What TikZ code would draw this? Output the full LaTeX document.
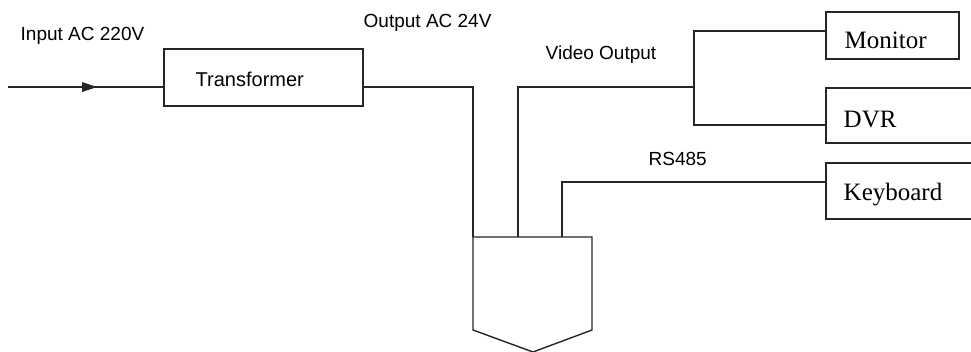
\documentclass[tikz,border=0pt]{standalone}
\usepackage{fontspec}
\setmainfont{Liberation Serif}
\setsansfont{Liberation Sans}
\begin{document}
\begin{tikzpicture}[x=1pt,y=-1pt,line width=1.4pt,
  lbl/.style={anchor=base west,inner sep=0,font=\sffamily\fontsize{19}{19}\selectfont},
  srf/.style={anchor=base west,inner sep=0,font=\rmfamily\fontsize{25}{25}\selectfont},
  box/.style={draw=black!85,rectangle,inner sep=0},
  wire/.style={draw=black!85}]
\useasboundingbox (0,0) rectangle (971,351);
\clip (0,0) rectangle (971,351);
% boxes
\node[box,minimum width=199pt,minimum height=57pt] (tr) at (263.5,77.5) {};
\node[box,minimum width=133pt,minimum height=47pt] (mon) at (892.5,35.5) {};
\node[box,minimum width=150pt,minimum height=55pt] (dvr) at (901,115.5) {};
\node[box,minimum width=150pt,minimum height=56pt] (kb) at (901,191) {};
% shield-shaped device
\coordinate (stl) at (473,237);
\coordinate (str) at (592,237);
\draw[wire] (stl) -- (str) -- (592,330) -- (533,352) -- (473,330) -- cycle;
\coordinate (vidtop) at (518,237);
\coordinate (rstop) at (562,237);
% texts
\node[lbl] (tin) at (20,40) {Input AC 220V};
\node[lbl] (tout) at (363,27) {Output AC 24V};
\node[lbl] (tvid) at (545,59) {Video Output};
\node[lbl] (trs) at (648,165) {RS485};
\node[lbl,font=\sffamily\fontsize{20}{20}\selectfont] (ttr) at (195,86.5) {Transformer};
\node[srf] (tmon) at (844,48) {Monitor};
\node[srf] (tdvr) at (843,127) {DVR};
\node[srf] (tkb) at (843,200) {Keyboard};
% connectors
\coordinate (inp) at (8,87);
\draw[wire] (inp) -- (tr.west |- inp);
\fill[black!85] (82,82) -- (97,87) -- (82,92) -- cycle;
\draw[wire] (tr.east |- inp) -- (stl |- inp) -- (stl);
\coordinate (split) at (694,87);
\draw[wire] (vidtop) -- (vidtop |- split) -- (split);
\coordinate (splitA) at (694,31);
\coordinate (splitB) at (694,125);
\draw[wire] (mon.west |- splitA) -- (splitA) -- (splitB) -- (dvr.west |- splitB);
\coordinate (rsc) at (562,182);
\draw[wire] (rstop) -- (rsc) -- (kb.west |- rsc);
\end{tikzpicture}
\end{document}
